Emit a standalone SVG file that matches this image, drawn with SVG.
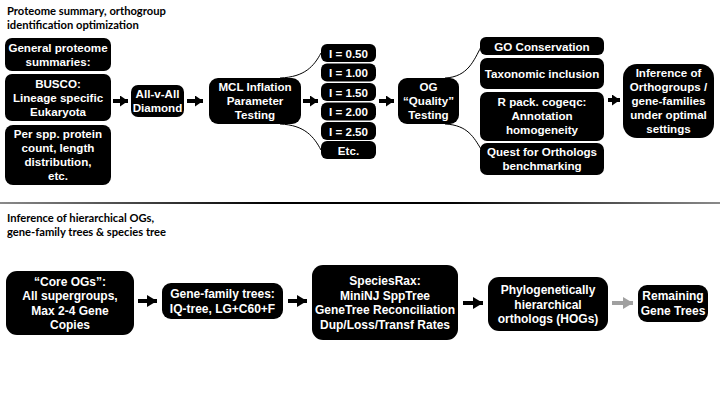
<svg xmlns="http://www.w3.org/2000/svg" width="720" height="405" viewBox="0 0 720 405">
<style>
.box{fill:#000}
.t{font-family:"Liberation Sans",Arial,sans-serif;font-weight:bold;font-size:11.6px;fill:#fff;text-anchor:middle}
.tb{font-family:"Liberation Sans",Arial,sans-serif;font-weight:bold;font-size:12px;fill:#fff;text-anchor:middle}
.title{font-family:Lato,"Open Sans",sans-serif;font-weight:bold;font-size:11.2px;fill:#000}
.arr{stroke:#000;stroke-width:4;fill:none}
.arrg{stroke:#a0a0a0;stroke-width:4;fill:none}
.curve{stroke:#000;stroke-width:1;fill:none}
</style>
<defs>
<marker id="ah" viewBox="0 0 8 11" markerWidth="8" markerHeight="11" refX="8" refY="5.5" orient="auto" markerUnits="userSpaceOnUse"><path d="M0,0 L8,5.5 L0,11 z" fill="#000"/></marker>
<marker id="ahb" viewBox="0 0 10 12" markerWidth="10" markerHeight="12" refX="10" refY="6" orient="auto" markerUnits="userSpaceOnUse"><path d="M0,0 L10,6 L0,12 z" fill="#000"/></marker>
<marker id="ahg" viewBox="0 0 10 12" markerWidth="10" markerHeight="12" refX="10" refY="6" orient="auto" markerUnits="userSpaceOnUse"><path d="M0,0 L10,6 L0,12 z" fill="#a0a0a0"/></marker>
<linearGradient id="sep" gradientUnits="userSpaceOnUse" x1="0" y1="0" x2="720" y2="0">
<stop offset="0" stop-color="#8a8a8a"/><stop offset="0.38" stop-color="#000"/><stop offset="0.62" stop-color="#000"/><stop offset="1" stop-color="#8a8a8a"/>
</linearGradient>
</defs>
<rect width="720" height="405" fill="#fff"/>

<text class="title" x="7" y="15">Proteome summary, orthogroup</text>
<text class="title" x="7" y="29">identification optimization</text>
<rect x="0" y="202" width="720" height="2" fill="url(#sep)"/>
<text class="title" x="7" y="222">Inference of hierarchical OGs,</text>
<text class="title" x="7" y="236">gene-family trees &amp; species tree</text>

<g id="connectors">
<line class="arr" x1="113" y1="101" x2="128" y2="101" marker-end="url(#ah)"/>
<line class="arr" x1="187" y1="101" x2="203" y2="101" marker-end="url(#ah)"/>
<line class="arr" x1="303" y1="101" x2="318" y2="101" marker-end="url(#ah)"/>
<line class="arr" x1="379" y1="101" x2="394" y2="101" marker-end="url(#ah)"/>
<line class="arr" x1="608" y1="100" x2="620" y2="100" marker-end="url(#ah)"/>
<path class="curve" d="M280,78 C305,77 314,66 321,53"/>
<path class="curve" d="M280,124 C305,125 314,137 321,150"/>
<path class="curve" d="M445,78 C468,77 474,60 481,47"/>
<path class="curve" d="M445,124 C468,125 474,138 481,149"/>
<line class="arr" x1="138" y1="301" x2="157" y2="301" marker-end="url(#ahb)"/>
<line class="arr" x1="288" y1="301" x2="307" y2="301" marker-end="url(#ahb)"/>
<line class="arr" x1="463" y1="303" x2="483" y2="303" marker-end="url(#ahb)"/>
<line class="arrg" x1="612" y1="303" x2="633" y2="303" marker-end="url(#ahg)"/>
</g>

<g id="general"><rect class="box" x="5" y="38" width="106" height="33" rx="7"/>
<text class="t" x="58" y="52">General proteome</text><text class="t" x="58" y="66">summaries:</text></g>
<g id="busco"><rect class="box" x="5" y="74" width="106" height="47" rx="7"/>
<text class="t" x="58" y="88">BUSCO:</text><text class="t" x="58" y="102">Lineage specific</text><text class="t" x="58" y="116">Eukaryota</text></g>
<g id="perspp"><rect class="box" x="5" y="125" width="106" height="60" rx="8"/>
<text class="t" x="58" y="138">Per spp. protein</text><text class="t" x="58" y="152">count, length</text><text class="t" x="58" y="166">distribution,</text><text class="t" x="58" y="180">etc.</text></g>
<g id="allvall"><rect class="box" x="131" y="85" width="53" height="32" rx="7"/>
<text class="t" x="157.5" y="98">All-v-All</text><text class="t" x="157.5" y="112">Diamond</text></g>
<g id="mcl"><rect class="box" x="209" y="78" width="92" height="46" rx="9"/>
<text class="t" x="255" y="91">MCL Inflation</text><text class="t" x="255" y="105">Parameter</text><text class="t" x="255" y="119">Testing</text></g>
<g id="i050"><rect class="box" x="321" y="44" width="55" height="18" rx="6"/><text class="t" x="348.5" y="57.5">I = 0.50</text></g>
<g id="i100"><rect class="box" x="321" y="63.5" width="55" height="18" rx="6"/><text class="t" x="348.5" y="77">I = 1.00</text></g>
<g id="i150"><rect class="box" x="321" y="83" width="55" height="18" rx="6"/><text class="t" x="348.5" y="96.5">I = 1.50</text></g>
<g id="i200"><rect class="box" x="321" y="102.5" width="55" height="18" rx="6"/><text class="t" x="348.5" y="116">I = 2.00</text></g>
<g id="i250"><rect class="box" x="321" y="122" width="55" height="18" rx="6"/><text class="t" x="348.5" y="135.5">I = 2.50</text></g>
<g id="etc"><rect class="box" x="321" y="141" width="55" height="18" rx="6"/><text class="t" x="348.5" y="154.5">Etc.</text></g>
<g id="og"><rect class="box" x="398" y="78" width="61" height="46" rx="9"/>
<text class="t" x="428.5" y="91">OG</text><text class="t" x="428.5" y="105">“Quality”</text><text class="t" x="428.5" y="119">Testing</text></g>
<g id="go"><rect class="box" x="480" y="37" width="124" height="18" rx="6"/><text class="t" x="542" y="50.5">GO Conservation</text></g>
<g id="taxo"><rect class="box" x="480" y="58" width="124" height="31" rx="7"/><text class="t" x="542" y="77.5">Taxonomic inclusion</text></g>
<g id="rpack"><rect class="box" x="480" y="92" width="124" height="49" rx="7"/>
<text class="t" x="542" y="106">R pack. cogeqc:</text><text class="t" x="542" y="120">Annotation</text><text class="t" x="542" y="134">homogeneity</text></g>
<g id="quest"><rect class="box" x="480" y="143" width="124" height="32" rx="7"/>
<text class="t" x="542" y="156">Quest for Orthologs</text><text class="t" x="542" y="170">benchmarking</text></g>
<g id="inference"><rect class="box" x="623" y="64" width="91" height="74" rx="14"/>
<text class="t" x="668.5" y="77">Inference of</text><text class="t" x="668.5" y="91">Orthogroups /</text><text class="t" x="668.5" y="105">gene-families</text><text class="t" x="668.5" y="119">under optimal</text><text class="t" x="668.5" y="133">settings</text></g>

<g id="coreogs"><rect class="box" x="6" y="271" width="128" height="64" rx="11"/>
<text class="tb" x="70" y="285.5">“Core OGs”:</text><text class="tb" x="70" y="300">All supergroups,</text><text class="tb" x="70" y="314.5">Max 2-4 Gene</text><text class="tb" x="70" y="329">Copies</text></g>
<g id="genefam"><rect class="box" x="162" y="283" width="121" height="36" rx="9"/>
<text class="tb" x="222.5" y="298">Gene-family trees:</text><text class="tb" x="222.5" y="312.5">IQ-tree, LG+C60+F</text></g>
<g id="speciesrax"><rect class="box" x="312" y="265" width="146" height="75" rx="11"/>
<text class="tb" x="385" y="285">SpeciesRax:</text><text class="tb" x="385" y="299.5">MiniNJ SppTree</text><text class="tb" x="385" y="314">GeneTree Reconciliation</text><text class="tb" x="385" y="328.5">Dup/Loss/Transf Rates</text></g>
<g id="hogs"><rect class="box" x="488" y="277" width="120" height="54" rx="11"/>
<text class="tb" x="548" y="294">Phylogenetically</text><text class="tb" x="548" y="308.5">hierarchical</text><text class="tb" x="548" y="323">orthologs (HOGs)</text></g>
<g id="remaining"><rect class="box" x="638" y="285" width="70" height="37" rx="9"/>
<text class="tb" x="673" y="300">Remaining</text><text class="tb" x="673" y="314.5">Gene Trees</text></g>
</svg>
